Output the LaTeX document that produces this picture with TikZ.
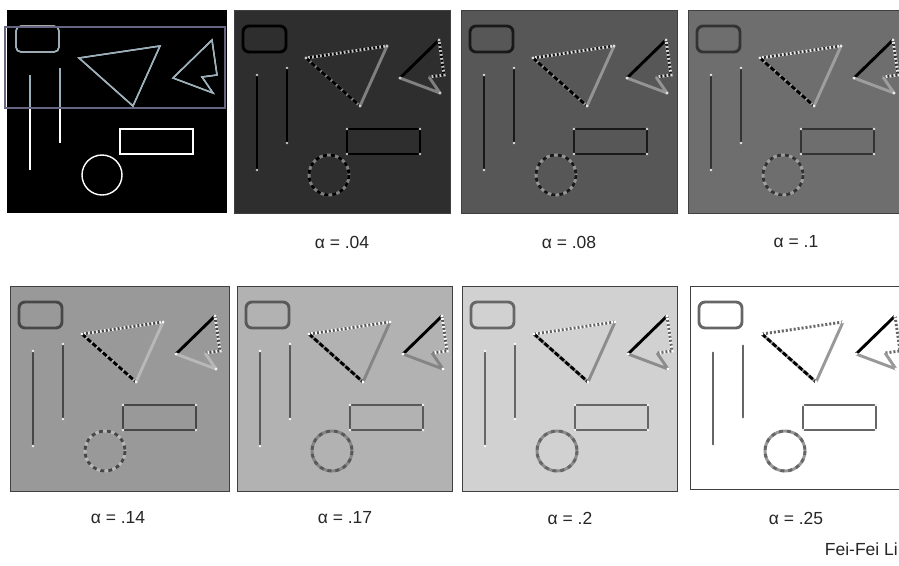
\documentclass[tikz,border=0pt]{standalone}
\usepackage{fontspec}
\setmainfont{Liberation Sans}
\usetikzlibrary{positioning}

% one panel of edge responses: x, y, width, height, background, dark, mid, light
\newcommand{\gradpanel}[8]{%
  \begin{scope}[shift={(#1,#2)}]
    \fill[#5] (0,0) rectangle (#3,#4);
    % rounded box and bars
    \draw[ridge, draw=#6, rounded corners=6pt] (9,16) rectangle (52,42);
    \draw[ridge, draw=#6] (23,65) -- (23,160);
    \draw[ridge, draw=#6] (53,58) -- (53,133);
    \fill[#8] (23,65) circle (1.4) (23,160) circle (1.4)
              (53,58) circle (1.4) (53,133) circle (1.4);
    % triangle
    \draw[ridge, draw=#8] (72,48) -- (153,36);
    \draw[ridge, draw=#6, dash pattern=on 2pt off 2pt] (72,48) -- (153,36);
    \draw[ridge, draw=#7] (72,48) -- (126,96);
    \draw[ridge, draw=black, dash pattern=on 5pt off 2pt] (72,48) -- (126,96);
    \draw[ridge, draw=#7] (126,96) -- (153,36);
    \fill[#8] (72,48) circle (1.6) (153,36) circle (1.6) (126,96) circle (1.6);
    % arrow shape
    \draw[ridge, draw=black] (166,68) -- (205,30);
    \draw[ridge, draw=#8] (205,30) -- (210,65) -- (195,67);
    \draw[ridge, draw=#6, dash pattern=on 2pt off 2pt] (205,30) -- (210,65) -- (195,67);
    \draw[ridge, draw=#7, line join=round] (195,67) -- (206,83) -- (166,68);
    \fill[#8] (166,68) circle (1.6) (205,30) circle (1.6) (206,83) circle (1.6);
    % rectangle and circle
    \draw[ridge, draw=#6] (113,119) rectangle (186,144);
    \fill[#8] (113,119) circle (1.4) (186,119) circle (1.4)
              (113,144) circle (1.4) (186,144) circle (1.4);
    \draw[ridge, draw=#7] (95,165) circle (20);
    \draw[ridge, draw=#6, dash pattern=on 4pt off 4pt] (95,165) circle (20);
    \draw[frame] (0,0) rectangle (#3,#4);
  \end{scope}%
}

% outlines of the original image
\newcommand{\plainshapes}[1]{%
  \draw[#1, rounded corners=5pt] (9,16) rectangle (52,42);
  \draw[#1] (23,65) -- (23,160) (53,58) -- (53,133);
  \draw[#1] (72,48) -- (153,36) -- (126,96) -- cycle;
  \draw[#1] (166,68) -- (205,30) -- (210,65) -- (195,67) -- (206,83) -- cycle;
  \draw[#1] (113,119) rectangle (186,144);
  \draw[#1] (95,165) circle (20);
}

\begin{document}
\begin{tikzpicture}[
  x=1pt, y=-1pt,
  ridge/.style={line width=2.9pt},
  frame/.style={draw=black!75, line width=0.8pt},
  lbl/.style={font=\fontsize{17.5}{20}\selectfont, text=black!85, inner sep=0pt}
]
\clip (0,0) rectangle (899,565);
\fill[white] (0,0) rectangle (899,565);

% original image
\begin{scope}[shift={(7,10)}]
  \fill[black] (0,0) rectangle (220,203);
  \plainshapes{draw=white, line width=1.4pt}
  \begin{scope}
    \clip (-2,17) rectangle (218,98);
    \plainshapes{draw=cyan!25!gray!80!white, line width=1.4pt}
  \end{scope}
  \draw[draw=black!45!blue!20!gray, line width=2pt] (-2,17) rectangle (218,98);
\end{scope}

% edge responses
\gradpanel{234}{10}{216}{203}{black!82}{black}{black!50}{black!22}
\gradpanel{461}{10}{216}{203}{black!66}{black!90}{black!42}{black!12}
\gradpanel{688}{10}{216}{203}{black!57}{black!80}{black!38}{black!8}
\gradpanel{10}{286}{219}{205}{black!40}{black!72}{black!28}{black!5}
\gradpanel{237}{286}{215}{205}{black!30}{black!65}{black!48}{white}
\gradpanel{462}{286}{215}{205}{black!18}{black!60}{black!45}{white}
\gradpanel{690}{286}{218}{203}{white}{black!60}{black!40}{white}

\node[lbl] (a04) at (342,242) {α = .04};
\node[lbl] (a08) at (569,242) {α = .08};
\node[lbl] (a10) at (796,242) {α = .1};
\node[lbl] (a14) at (118,518) {α = .14};
\node[lbl] (a17) at (345,518) {α = .17};
\node[lbl] (a20) at (570,518) {α = .2};
\node[lbl] (a25) at (796,518) {α = .25};
\node[lbl, anchor=east] (credit) at (898,549) {Fei-Fei Li};
\end{tikzpicture}
\end{document}
